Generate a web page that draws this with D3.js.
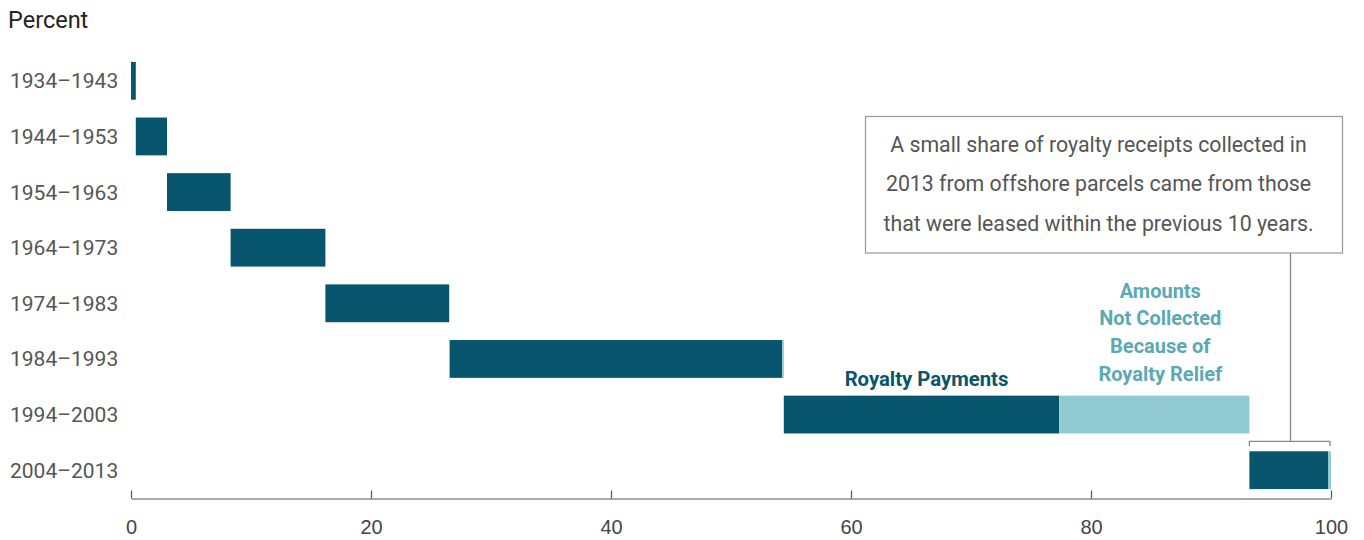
<!DOCTYPE html>
<html lang="en">
<head>
<meta charset="UTF-8">
<title>Royalty receipts by lease period</title>
<script src="https://d3js.org/d3.v7.min.js"></script>
<style>
    body { margin: 0; background: #fff; font-family: Roboto, "Noto Sans", Arial, sans-serif; }
    svg { display: block; }
    .cat { font-size: 21px; fill: #555; }
    .tick text { font-size: 20px; fill: #444; }
    .note { font-size: 21.3px; fill: #555; }
</style>
</head>
<body>
<div id="chart"></div>
<script>
    // lease periods, share of 2013 offshore royalty receipts (percent)
    const periods = ["1934–1943", "1944–1953", "1954–1963", "1964–1973",
        "1974–1983", "1984–1993", "1994–2003", "2004–2013"];
    const paid = [0.4, 2.6, 5.3, 7.9, 10.3, 27.7, 22.95, 6.55];
    const relief = [0, 0, 0, 0, 0.05, 0.15, 15.85, 0.25];
    const xTicks = [0, 20, 40, 60, 80, 100];

    const dark = "#07566d", light = "#91cad1";

    const W = 1364, H = 540;
    const margin = { top: 53, right: 33, bottom: 42, left: 131 };

    const svg = d3.select("#chart").append("svg")
        .attr("width", W).attr("height", H);

    const x = d3.scaleLinear().domain([0, 100]).range([margin.left, W - margin.right]);
    const y = d3.scaleBand().domain(periods)
        .range([margin.top, H - margin.bottom])
        .paddingInner(0.32).paddingOuter(0.16);

    // running start of each period's bar
    let acc = 0;
    const rows = periods.map((p, i) => {
        const r = { period: p, start: acc, paid: paid[i], relief: relief[i] };
        acc += paid[i] + relief[i];
        return r;
    });

    svg.append("g").selectAll("rect.paid")
        .data(rows).enter().append("rect")
        .attr("x", d => x(d.start))
        .attr("y", d => y(d.period))
        .attr("width", d => x(d.start + d.paid) - x(d.start))
        .attr("height", y.bandwidth())
        .attr("fill", dark);

    svg.append("g").selectAll("rect.relief")
        .data(rows.filter(d => d.relief > 0)).enter().append("rect")
        .attr("x", d => x(d.start + d.paid))
        .attr("y", d => y(d.period))
        .attr("width", d => x(d.start + d.paid + d.relief) - x(d.start + d.paid))
        .attr("height", y.bandwidth())
        .attr("fill", light);

    // category labels
    svg.append("g").selectAll("text")
        .data(periods).enter().append("text")
        .attr("class", "cat")
        .attr("x", 10)
        .attr("y", d => y(d) + y.bandwidth() / 2 + 7.5)
        .text(d => d);

    svg.append("text")
        .attr("x", 8).attr("y", 28)
        .attr("font-size", 23.5).attr("fill", "#222")
        .text("Percent");

    // x axis with ticks pointing up
    const axisY = H - margin.bottom + 0.5;
    const ax = svg.append("g")
        .attr("transform", `translate(0,${axisY})`)
        .call(d3.axisBottom(x).tickValues(xTicks).tickSizeInner(-8).tickSizeOuter(0).tickPadding(24));
    ax.select(".domain").attr("stroke", "#555").attr("stroke-width", 1.2);
    ax.selectAll(".tick line").attr("stroke", "#555").attr("stroke-width", 1.2);
    ax.selectAll(".tick text").attr("dy", "0.32em").attr("y", 29);

    // series labels
    const r94 = rows[6];
    svg.append("text")
        .attr("x", x(r94.start + r94.paid / 2) + 5)
        .attr("y", y(r94.period) - 10)
        .attr("text-anchor", "middle")
        .attr("font-size", 20.3).attr("font-weight", "bold").attr("fill", dark)
        .text("Royalty Payments");

    const reliefLines = ["Amounts", "Not Collected", "Because of", "Royalty Relief"];
    svg.append("g").selectAll("text")
        .data(reliefLines).enter().append("text")
        .attr("x", x(r94.start + r94.paid + r94.relief / 2) + 6)
        .attr("y", (d, i) => y(r94.period) - 15 - (reliefLines.length - 1 - i) * 27.6)
        .attr("text-anchor", "middle")
        .attr("font-size", 20).attr("font-weight", "bold").attr("fill", "#5aa9b3")
        .text(d => d);

    // callout for the last decade
    const r04 = rows[7];
    const bx0 = x(r04.start), bx1 = x(100) - 1;
    const by = y(r04.period) - 10;
    svg.append("path")
        .attr("d", `M${bx0},${by + 5}V${by}H${bx1}V${by + 5}`)
        .attr("fill", "none").attr("stroke", "#888").attr("stroke-width", 1.3);

    const box = { x0: 865, x1: 1342, y0: 116.5, y1: 253 };
    svg.append("line")
        .attr("x1", 1290.5).attr("x2", 1290.5)
        .attr("y1", box.y1).attr("y2", by)
        .attr("stroke", "#888").attr("stroke-width", 1.3);
    svg.append("rect")
        .attr("x", box.x0 + 0.5).attr("y", box.y0)
        .attr("width", box.x1 - box.x0).attr("height", box.y1 - box.y0)
        .attr("fill", "#fff").attr("stroke", "#999").attr("stroke-width", 1.2);

    const noteLines = ["A small share of royalty receipts collected in",
        "2013 from offshore parcels came from those",
        "that were leased within the previous 10 years."];
    svg.append("g").selectAll("text")
        .data(noteLines).enter().append("text")
        .attr("class", "note")
        .attr("x", (box.x0 + box.x1) / 2 - 5)
        .attr("y", (d, i) => 151.5 + i * 39.7)
        .attr("text-anchor", "middle")
        .text(d => d);
</script>
</body>
</html>
